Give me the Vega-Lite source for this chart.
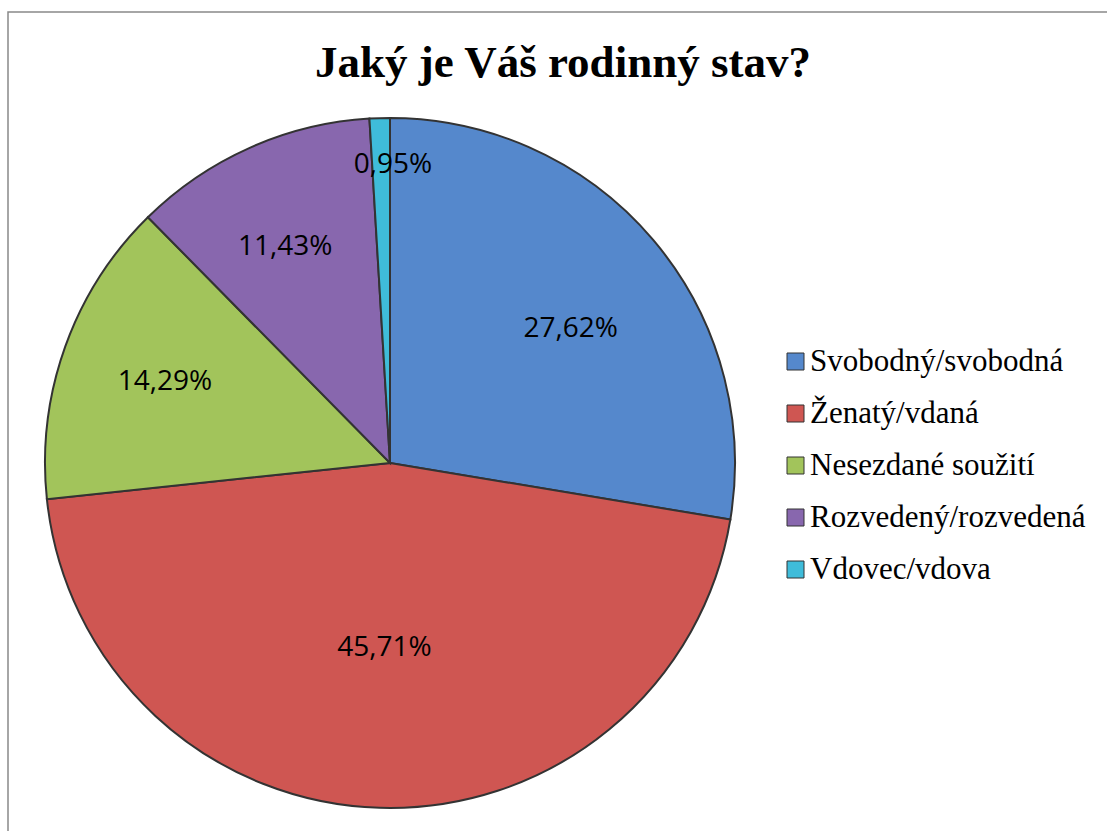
{
  "$schema": "https://vega.github.io/schema/vega-lite/v6.json",
  "autosize": {"type": "none"},
  "width": 1102,
  "height": 822,
  "padding": {"left": 8, "top": 12, "right": 0, "bottom": 0},
  "background": "white",
  "view": {"stroke": "#898989", "strokeWidth": 1.5},
  "config": {"view": {"stroke": "#898989", "strokeWidth": 1.5}},
  "title": {
    "text": "Jaký je Váš rodinný stav?",
    "font": "Liberation Serif",
    "fontSize": 45,
    "fontWeight": "bold",
    "color": "black",
    "anchor": "middle",
    "frame": "group",
    "baseline": "alphabetic",
    "offset": 0,
    "dy": 110,
    "dx": 4
  },
  "data": {
    "values": [
      {"category": "Svobodný/svobodná", "value": 27.62, "label": "27,62%", "order": 1},
      {"category": "Ženatý/vdaná", "value": 45.71, "label": "45,71%", "order": 2},
      {"category": "Nesezdané soužití", "value": 14.29, "label": "14,29%", "order": 3},
      {"category": "Rozvedený/rozvedená", "value": 11.43, "label": "11,43%", "order": 4},
      {"category": "Vdovec/vdova", "value": 0.95, "label": "0,95%", "order": 5}
    ]
  },
  "encoding": {
    "theta": {"field": "value", "type": "quantitative", "stack": true},
    "order": {"field": "order", "type": "quantitative", "sort": "ascending"}
  },
  "layer": [
    {
      "mark": {"type": "arc", "x": 382, "y": 451, "outerRadius": 345, "stroke": "#333333", "strokeWidth": 2},
      "encoding": {
        "color": {
          "field": "category",
          "type": "nominal",
          "scale": {
            "domain": ["Svobodný/svobodná", "Ženatý/vdaná", "Nesezdané soužití", "Rozvedený/rozvedená", "Vdovec/vdova"],
            "range": ["#5588CC", "#CF5652", "#A2C45B", "#8867AE", "#3FBCDA"]
          },
          "legend": {
            "orient": "none",
            "legendX": 772,
            "legendY": 334,
            "title": null,
            "symbolType": "square",
            "symbolSize": 289,
            "symbolStrokeColor": "#333333",
            "symbolStrokeWidth": 1,
            "labelFont": "Liberation Serif",
            "labelFontSize": 31,
            "labelColor": "black",
            "labelOffset": -1,
            "rowPadding": 20,
            "labelLimit": 400
          }
        }
      }
    },
    {
      "mark": {"type": "text", "x": 382, "y": 451, "radius": 225, "thetaOffset": 0.065, "font": "Open Sans", "fontSize": 28, "color": "black", "align": "center", "baseline": "middle"},
      "encoding": {
        "text": {"condition": {"test": "datum.order == 1", "field": "label"}, "value": ""}
      }
    },
    {
      "mark": {"type": "text", "x": 382, "y": 451, "radius": 239, "font": "Open Sans", "fontSize": 28, "color": "black", "align": "center", "baseline": "middle"},
      "encoding": {
        "text": {"condition": {"test": "datum.order == 3", "field": "label"}, "value": ""}
      }
    },
    {
      "mark": {"type": "text", "x": 382, "y": 451, "radius": 240, "thetaOffset": -0.033, "font": "Open Sans", "fontSize": 28, "color": "black", "align": "center", "baseline": "middle"},
      "encoding": {
        "text": {"condition": {"test": "datum.order == 4", "field": "label"}, "value": ""}
      }
    },
    {
      "mark": {"type": "text", "x": 382, "y": 451, "radius": 185, "font": "Open Sans", "fontSize": 28, "color": "black", "align": "center", "baseline": "middle"},
      "encoding": {
        "text": {"condition": {"test": "datum.order == 2", "field": "label"}, "value": ""}
      }
    },
    {
      "mark": {"type": "text", "x": 382, "y": 451, "radius": 298, "thetaOffset": 0.04, "font": "Open Sans", "fontSize": 28, "color": "black", "align": "center", "baseline": "middle"},
      "encoding": {
        "text": {"condition": {"test": "datum.order == 5", "field": "label"}, "value": ""}
      }
    }
  ]
}
